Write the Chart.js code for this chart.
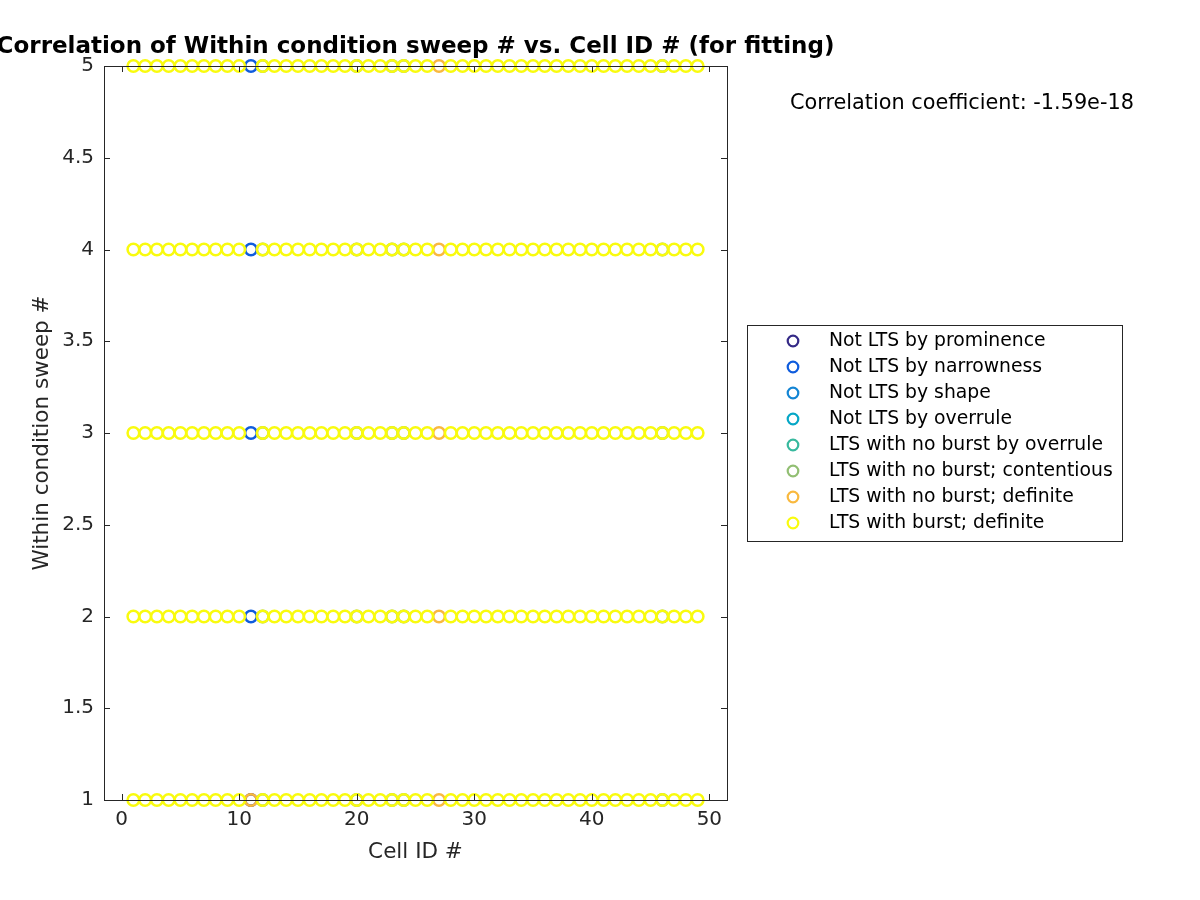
<!DOCTYPE html>
<html>
<head>
<meta charset="utf-8">
<script src="https://cdn.jsdelivr.net/npm/chart.js@4.4.1/dist/chart.umd.min.js"></script>
<style>
html,body{margin:0;padding:0;background:#fff;}
#wrap{width:1200px;height:900px;position:relative;}
</style>
</head>
<body>
<div id="wrap"><canvas id="c" width="1200" height="900"></canvas></div>
<script>
// ---- data ----
const sweeps = [1, 2, 3, 4, 5];
const xTicks = [0, 10, 20, 30, 40, 50];
const yTicks = [1, 1.5, 2, 2.5, 3, 3.5, 4, 4.5, 5];
const categories = [
  "Not LTS by prominence",
  "Not LTS by narrowness",
  "Not LTS by shape",
  "Not LTS by overrule",
  "LTS with no burst by overrule",
  "LTS with no burst; contentious",
  "LTS with no burst; definite",
  "LTS with burst; definite"
];
const categoryColors = ["#352a87", "#0f5cdd", "#1485d4", "#06a7c6", "#38b99e", "#92bf73", "#f9b93f", "#f9fb0e"];
// cells (x) per category, with the sweeps (y) they occur at
const prominenceCells = [11];
const prominenceSweeps = [1];
const narrownessCells = [11];
const narrownessSweeps = [2, 3, 4, 5];
const shapeCells = [];
const overruleCells = [];
const noBurstOverruleCells = [];
const contentiousCells = [12, 20, 23, 24, 46];
const definiteCells = [27];
const definiteExtra = [[11, 1]];
const burstCells = [1,2,3,4,5,6,7,8,9,10,12,13,14,15,16,17,18,19,20,21,22,23,24,25,26,28,29,30,31,32,33,34,35,36,37,38,39,40,41,42,43,44,45,46,47,48,49];
const corrText = "Correlation coefficient: -1.59e-18";

function cross(cells, sw) {
  const pts = [];
  cells.forEach(c => sw.forEach(s => pts.push({x: c, y: s})));
  return pts;
}
const seriesPoints = [
  cross(prominenceCells, prominenceSweeps),
  cross(narrownessCells, narrownessSweeps),
  cross(shapeCells, sweeps),
  cross(overruleCells, sweeps),
  cross(noBurstOverruleCells, sweeps),
  cross(contentiousCells, sweeps),
  cross(definiteCells, sweeps).concat(definiteExtra.map(p => ({x: p[0], y: p[1]}))),
  cross(burstCells, sweeps)
];

const datasets = categories.map((name, i) => ({
  label: name,
  data: seriesPoints[i],
  borderColor: categoryColors[i],
  backgroundColor: 'rgba(0,0,0,0)',
  pointRadius: 5.8,
  pointHoverRadius: 5.8,
  pointBorderWidth: 2.5,
  pointStyle: 'circle',
  showLine: false,
  clip: false,
  order: categories.length - i
}));

const FONT = "'DejaVu Sans', sans-serif";
const AX = '#262626';

const decor = {
  id: 'decor',
  afterDraw(chart) {
    const ctx = chart.ctx;
    const ca = chart.chartArea;
    const xs = chart.scales.x, ys = chart.scales.y;
    ctx.save();
    // frame
    ctx.strokeStyle = AX;
    ctx.lineWidth = 1;
    ctx.strokeRect(Math.round(ca.left) + 0.5, Math.round(ca.top) + 0.5, Math.round(ca.right - ca.left), Math.round(ca.bottom - ca.top));
    // ticks
    const tl = 6;
    ctx.beginPath();
    xTicks.forEach(v => {
      const px = Math.round(xs.getPixelForValue(v)) + 0.5;
      ctx.moveTo(px, ca.bottom); ctx.lineTo(px, ca.bottom - tl);
      ctx.moveTo(px, ca.top); ctx.lineTo(px, ca.top + tl);
    });
    yTicks.forEach(v => {
      const py = Math.round(ys.getPixelForValue(v)) + 0.5;
      ctx.moveTo(ca.left, py); ctx.lineTo(ca.left + tl, py);
      ctx.moveTo(ca.right, py); ctx.lineTo(ca.right - tl, py);
    });
    ctx.stroke();
    // tick labels
    ctx.fillStyle = AX;
    ctx.font = "20px " + FONT;
    ctx.textAlign = 'center'; ctx.textBaseline = 'top';
    xTicks.forEach(v => ctx.fillText(String(v), xs.getPixelForValue(v), ca.bottom + 10));
    ctx.textAlign = 'right'; ctx.textBaseline = 'middle';
    yTicks.forEach(v => ctx.fillText(String(v), ca.left - 10, ys.getPixelForValue(v)));
    // axis labels
    ctx.font = "21.5px " + FONT;
    ctx.textAlign = 'center'; ctx.textBaseline = 'middle';
    ctx.fillText("Cell ID #", (ca.left + ca.right) / 2, 852);
    ctx.save();
    ctx.translate(42, (ca.top + ca.bottom) / 2);
    ctx.rotate(-Math.PI / 2);
    ctx.fillText("Within condition sweep #", 0, 0);
    ctx.restore();
    // title
    ctx.fillStyle = '#000';
    ctx.font = "bold 23px " + FONT;
    ctx.textAlign = 'center'; ctx.textBaseline = 'middle';
    ctx.fillText("Correlation of Within condition sweep # vs. Cell ID # (for fitting)", (ca.left + ca.right) / 2, 47);
    // correlation text
    ctx.font = "20.8px " + FONT;
    ctx.textAlign = 'left';
    ctx.fillText(corrText, 790, 104);
    // legend
    const lx = 747, ly = 325, lw = 375, lh = 216;
    ctx.fillStyle = '#fff';
    ctx.fillRect(lx, ly, lw, lh);
    ctx.strokeStyle = AX; ctx.lineWidth = 1;
    ctx.strokeRect(lx + 0.5, ly + 0.5, lw, lh);
    ctx.font = "18.8px " + FONT;
    ctx.textAlign = 'left'; ctx.textBaseline = 'middle';
    categories.forEach((name, i) => {
      const yy = 341 + i * 26;
      ctx.beginPath();
      ctx.strokeStyle = categoryColors[i];
      ctx.lineWidth = 2.2;
      ctx.arc(793, yy, 5.3, 0, Math.PI * 2);
      ctx.stroke();
      ctx.fillStyle = '#000';
      ctx.fillText(name, 829, yy);
    });
    ctx.restore();
  }
};

new Chart(document.getElementById('c'), {
  type: 'scatter',
  data: { datasets },
  options: {
    responsive: false,
    animation: false,
    events: [],
    layout: { padding: { left: 104, right: 473, top: 66, bottom: 100 } },
    plugins: { legend: { display: false }, title: { display: false }, tooltip: { enabled: false } },
    scales: {
      x: { type: 'linear', min: -1.5, max: 51.5, display: false },
      y: { type: 'linear', min: 1, max: 5, display: false }
    }
  },
  plugins: [decor]
});
</script>
</body>
</html>
